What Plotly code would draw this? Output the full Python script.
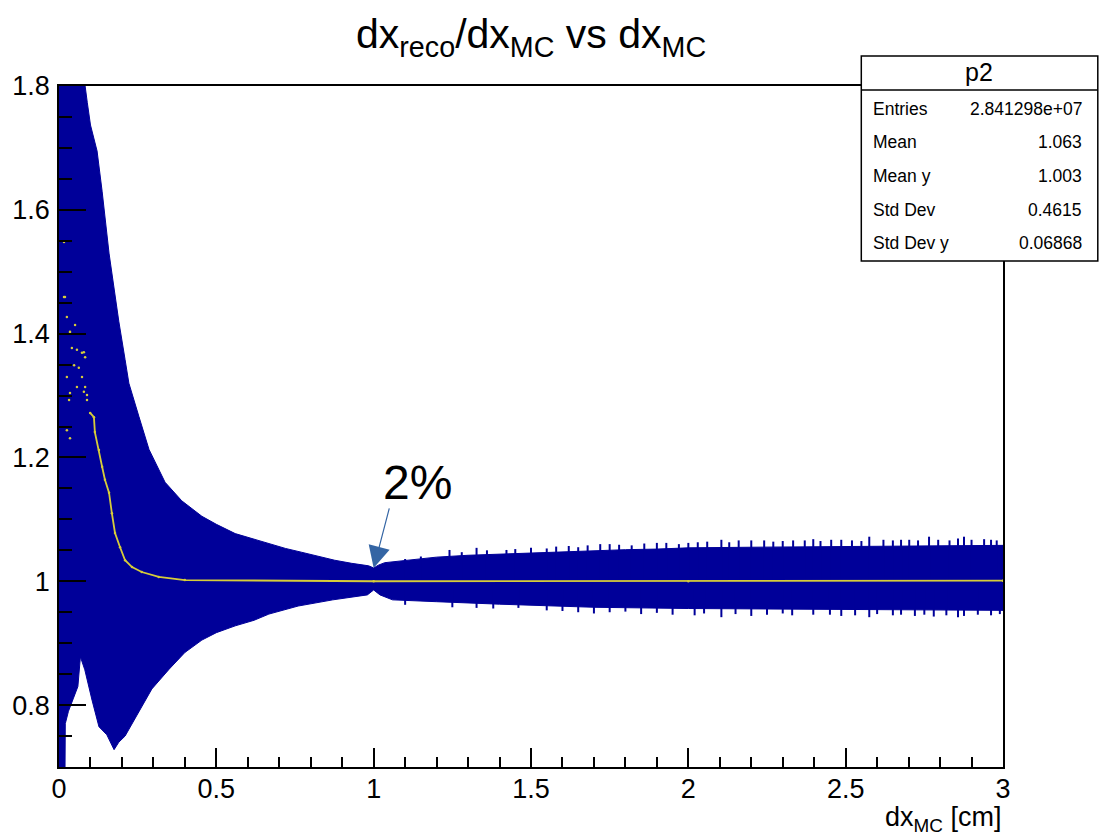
import plotly.graph_objects as go

# ---------------- data ----------------
# upper edge of the spread band (mean + std dev)
up_x = [0.0, 0.083, 0.09, 0.1, 0.121, 0.137, 0.159, 0.19, 0.21, 0.222, 0.254, 0.286,
        0.337, 0.39, 0.454, 0.5, 0.56, 0.62, 0.667, 0.72, 0.77, 0.83, 0.876, 0.93,
        0.984, 1.0, 1.015, 1.035, 1.07, 1.12, 1.2, 1.3, 1.4, 1.5, 1.6, 1.7, 1.8,
        1.9, 2.0, 2.2, 2.4, 2.6, 2.8, 3.0]
up_y = [2.0, 1.80, 1.773, 1.737, 1.695, 1.63, 1.53, 1.42, 1.358, 1.32, 1.266, 1.213,
        1.16, 1.13, 1.105, 1.092, 1.077, 1.068, 1.06, 1.053, 1.047, 1.04, 1.034, 1.029,
        1.025, 1.0215, 1.026, 1.03, 1.032, 1.035, 1.039, 1.042, 1.044, 1.046, 1.048, 1.05, 1.051,
        1.052, 1.054, 1.055, 1.056, 1.057, 1.058, 1.058]
# lower edge of the spread band (mean - std dev)
lo_x = [0.0, 0.018, 0.02, 0.03, 0.045, 0.06, 0.068, 0.082, 0.105, 0.127, 0.152, 0.175,
        0.19, 0.21, 0.24, 0.295, 0.35, 0.4, 0.454, 0.5, 0.56, 0.62, 0.667, 0.76, 0.87,
        0.98, 1.0, 1.02, 1.06, 1.2, 1.4, 1.5, 1.7, 2.0, 2.5, 3.0]
lo_y = [0.6, 0.6, 0.77, 0.79, 0.81, 0.83, 0.878, 0.857, 0.808, 0.765, 0.752, 0.728,
        0.74, 0.75, 0.777, 0.826, 0.858, 0.885, 0.905, 0.917, 0.928, 0.937, 0.947, 0.96, 0.97,
        0.978, 0.986, 0.978, 0.97, 0.967, 0.963, 0.961, 0.958, 0.956, 0.954, 0.953]

# isolated long error bars (spikes) on the band edges
spk_up_x = [1.1, 1.15, 1.241, 1.28, 1.327, 1.36, 1.422, 1.45, 1.5, 1.55, 1.58, 1.62, 1.65,
            1.68, 1.72, 1.75, 1.78, 1.82, 1.86, 1.9, 1.93, 1.97, 2.0, 2.03, 2.06, 2.105,
            2.13, 2.16, 2.2, 2.241, 2.27, 2.3, 2.333, 2.37, 2.397, 2.42, 2.454, 2.486,
            2.52, 2.55, 2.575, 2.62, 2.65, 2.676, 2.702, 2.73, 2.765, 2.794, 2.83, 2.857,
            2.876, 2.9, 2.94, 2.962, 2.98]
spk_up_y = [1.036, 1.04, 1.0506, 1.047, 1.054, 1.05, 1.0506, 1.052, 1.054, 1.053, 1.056,
            1.057, 1.055, 1.058, 1.06, 1.06, 1.059, 1.058, 1.061, 1.062, 1.062, 1.06, 1.062,
            1.063, 1.064, 1.067, 1.063, 1.066, 1.066, 1.066, 1.064, 1.065, 1.066, 1.066,
            1.068, 1.065, 1.067, 1.067, 1.066, 1.065, 1.072, 1.067, 1.066, 1.067, 1.067,
            1.066, 1.072, 1.067, 1.066, 1.069, 1.072, 1.067, 1.068, 1.067, 1.066]
spk_lo_x = [1.1, 1.25, 1.327, 1.38, 1.46, 1.55, 1.6, 1.65, 1.7, 1.75, 1.8, 1.85, 1.9, 1.95,
            2.02, 2.05, 2.105, 2.15, 2.2, 2.25, 2.3, 2.33, 2.397, 2.45, 2.486, 2.53, 2.575,
            2.6, 2.65, 2.676, 2.72, 2.75, 2.78, 2.82, 2.857, 2.876, 2.92, 2.962, 2.99]
spk_lo_y = [0.962, 0.958, 0.957, 0.956, 0.957, 0.953, 0.952, 0.95, 0.948, 0.95, 0.951,
            0.947, 0.949, 0.946, 0.945, 0.948, 0.942, 0.947, 0.944, 0.946, 0.948, 0.945,
            0.946, 0.946, 0.944, 0.945, 0.942, 0.947, 0.945, 0.946, 0.944, 0.946, 0.943,
            0.945, 0.942, 0.944, 0.946, 0.945, 0.947]

# profile means (yellow points)
mean_sc_x = [0.016, 0.016, 0.019, 0.025, 0.025, 0.025, 0.032, 0.035, 0.035, 0.035, 0.035,
             0.041, 0.048, 0.051, 0.057, 0.057, 0.063, 0.073, 0.073, 0.079, 0.079, 0.083,
             0.083, 0.089, 0.089]
mean_sc_y = [1.548, 1.459, 1.459, 1.427, 1.330, 1.244, 1.293, 1.401, 1.304, 1.231, 1.403,
             1.377, 1.349, 1.414, 1.374, 1.314, 1.345, 1.330, 1.369, 1.370, 1.306, 1.362,
             1.314, 1.301, 1.293]
mean_x = [0.099, 0.111, 0.114, 0.127, 0.137, 0.146, 0.159, 0.168, 0.178, 0.194, 0.21,
          0.232, 0.263, 0.317, 0.4, 1.0, 2.0, 3.0]
mean_y = [1.272, 1.265, 1.241, 1.212, 1.185, 1.164, 1.143, 1.110, 1.078, 1.055, 1.034,
          1.023, 1.015, 1.007, 1.002, 1.0, 1.0, 1.001]

stats_labels = ["Entries", "Mean", "Mean y", "Std Dev", "Std Dev y"]
stats_values = ["2.841298e+07", "1.063", "1.003", "0.4615", "0.06868"]

# ---------------- figure ----------------
W, H = 1103, 835
L, R, T, B = 57, 100, 86, 68
PW, PH = W - L - R, H - T - B


def px(xp):
    return (xp - L) / PW


def py(yp):
    return (H - B - yp) / PH


BLUE = "#000099"
FONT = "Liberation Sans, Arial, Helvetica, sans-serif"

fig = go.Figure()

band_x = up_x + lo_x[::-1]
band_y = up_y + lo_y[::-1]
fig.add_trace(go.Scatter(x=band_x, y=band_y, mode="lines", fill="toself",
                         fillcolor=BLUE, line=dict(color=BLUE, width=1),
                         hoverinfo="skip", showlegend=False))

fig.add_trace(go.Scatter(
    x=spk_up_x, y=[1.0] * len(spk_up_x), mode="markers",
    marker=dict(size=1, color=BLUE, opacity=0),
    error_y=dict(type="data", symmetric=False,
                 array=[v - 1.0 for v in spk_up_y], arrayminus=[0] * len(spk_up_y),
                 width=0, thickness=2, color=BLUE),
    showlegend=False, hoverinfo="skip"))
fig.add_trace(go.Scatter(
    x=spk_lo_x, y=[1.0] * len(spk_lo_x), mode="markers",
    marker=dict(size=1, color=BLUE, opacity=0),
    error_y=dict(type="data", symmetric=False,
                 array=[0] * len(spk_lo_y), arrayminus=[1.0 - v for v in spk_lo_y],
                 width=0, thickness=2, color=BLUE),
    showlegend=False, hoverinfo="skip"))

YEL = "#d6cc3a"
fig.add_trace(go.Scatter(x=mean_sc_x, y=mean_sc_y, mode="markers",
                         marker=dict(size=2.5, color=YEL), showlegend=False))
fig.add_trace(go.Scatter(x=mean_x, y=mean_y, mode="lines+markers",
                         line=dict(color=YEL, width=1.8),
                         marker=dict(size=2.5, color=YEL), showlegend=False))

fig.update_layout(
    width=W, height=H,
    margin=dict(l=L, r=R, t=T, b=B),
    paper_bgcolor="white", plot_bgcolor="white",
    font=dict(family=FONT, color="black"),
    showlegend=False,
)
fig.update_xaxes(range=[0, 3], dtick=0.5, tick0=0, ticks="inside", ticklen=19,
                 tickwidth=1.5, tickcolor="black", showline=True, mirror=True,
                 linecolor="black", linewidth=1.5, showgrid=False, zeroline=False,
                 tickfont=dict(size=27, family=FONT), ticklabelstandoff=-3,
                 minor=dict(dtick=0.1, ticks="inside", ticklen=10, tickwidth=1.5,
                            tickcolor="black", showgrid=False))
fig.update_yaxes(range=[0.7, 1.8], dtick=0.2, tick0=0, ticks="inside", ticklen=27,
                 tickwidth=1.5, tickcolor="black", showline=True, mirror=True,
                 linecolor="black", linewidth=1.5, showgrid=False, zeroline=False,
                 tickfont=dict(size=27, family=FONT), ticklabelstandoff=2,
                 minor=dict(dtick=0.05, ticks="inside", ticklen=13, tickwidth=1.5,
                            tickcolor="black", showgrid=False))

# stats box
bx0, bx1, by0, by1, bsep = px(861), px(1098), py(261), py(56), py(90)
fig.add_shape(type="rect", xref="paper", yref="paper", x0=bx0, x1=bx1, y0=by0, y1=by1,
              fillcolor="white", line=dict(color="black", width=1.5), layer="above")
fig.add_shape(type="line", xref="paper", yref="paper", x0=bx0, x1=bx1, y0=bsep, y1=bsep,
              line=dict(color="black", width=1.5), layer="above")

ann = []
ann.append(dict(text="p2", xref="paper", yref="paper", x=px(979), y=py(72),
                xanchor="center", yanchor="middle", showarrow=False,
                font=dict(size=25, family=FONT, color="black")))
row_y = [109, 142, 176, 210, 243]
for lab, val, ry in zip(stats_labels, stats_values, row_y):
    ann.append(dict(text=lab, xref="paper", yref="paper", x=px(871), y=py(ry),
                    xanchor="left", yanchor="middle", showarrow=False,
                    font=dict(size=17.5, family=FONT, color="black")))
    ann.append(dict(text=val, xref="paper", yref="paper", x=px(1084), y=py(ry),
                    xanchor="right", yanchor="middle", showarrow=False,
                    font=dict(size=17.5, family=FONT, color="black")))

# title
ann.append(dict(text="dx<sub>reco</sub>/dx<sub>MC</sub> vs dx<sub>MC</sub>",
                xref="paper", yref="paper", x=px(530), y=py(37),
                xanchor="center", yanchor="middle", showarrow=False,
                font=dict(size=41, family=FONT, color="black")))
# x axis title
ann.append(dict(text="dx<sub>MC</sub> [cm]", xref="paper", yref="paper",
                x=1.0, y=py(819), xanchor="right", yanchor="middle", showarrow=False,
                font=dict(size=27, family=FONT, color="black")))
# 2% annotation
ann.append(dict(text="2%", xref="x", yref="y", x=1.14, y=0.7 + (767 - 483) / 619,
                xanchor="center", yanchor="middle", showarrow=False,
                font=dict(size=48, family=FONT, color="black")))
ann.append(dict(text="", xref="x", yref="y", x=1.0, y=1.0215, ax=16, ay=-61,
                showarrow=True, arrowhead=2, arrowsize=3.6, arrowwidth=1.2,
                arrowcolor="#3465a4", standoff=0))
fig.update_layout(annotations=ann)

fig.write_html("out.html")
